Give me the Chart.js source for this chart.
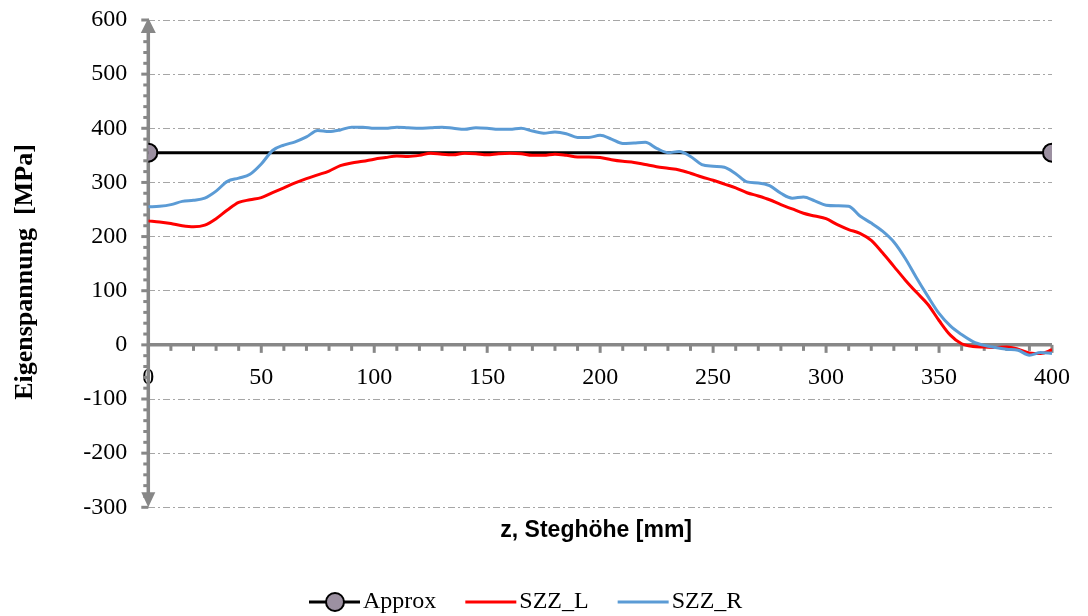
<!DOCTYPE html>
<html>
<head>
<meta charset="utf-8">
<script src="https://cdn.jsdelivr.net/npm/chart.js@4/dist/chart.umd.min.js"></script>
<style>
  html, body { margin: 0; padding: 0; background: #fff; }
  #wrap { width: 1088px; height: 616px; }
</style>
</head>
<body>
<div id="wrap"><canvas id="myChart" width="1088" height="616"></canvas></div>
<script>
// z positions along the web height [mm]
const zValues = [
  0, 5, 10, 15, 20, 25, 30, 35, 40, 45, 50, 55, 60, 65, 70, 75, 80, 85, 90, 95,
  100, 105, 110, 115, 120, 125, 130, 135, 140, 145, 150, 155, 160, 165, 170, 175, 180, 185, 190, 195,
  200, 205, 210, 215, 220, 225, 230, 235, 240, 245, 250, 255, 260, 265, 270, 275, 280, 285, 290, 295,
  300, 305, 310, 315, 320, 325, 330, 335, 340, 345, 350, 355, 360, 365, 370, 375, 380, 385, 390, 395,
  400
];

// residual stress, left side [MPa]
const szzL = [
  229, 227, 224, 220, 218, 221, 233, 249, 263, 268, 272, 281, 290, 299, 307, 314, 321, 331, 336, 339,
  343, 346, 349, 348, 350, 354, 352, 351, 354, 353, 351, 353, 354, 353, 350, 350, 352, 350, 347, 347,
  346, 342, 339, 337, 333, 329, 326, 323, 317, 310, 304, 297, 290, 281, 275, 268, 259, 251, 243, 238,
  233, 222, 213, 206, 193, 170, 145, 120, 97, 75, 45, 18, 2, -3, -4, -5, -4, -8, -15, -16,
  -9
];

// residual stress, right side [MPa]
const szzR = [
  255, 256, 259, 265, 267, 271, 284, 302, 308, 315, 334, 359, 369, 375, 384, 396, 394, 397, 402, 402,
  400, 400, 402, 401, 400, 401, 402, 400, 398, 401, 400, 398, 398, 400, 395, 391, 393, 390, 383, 383,
  387, 380, 372, 373, 374, 363, 355, 357, 348, 333, 330, 328, 316, 301, 299, 294, 280, 271, 273, 266,
  258, 257, 256, 238, 225, 210, 190, 160, 124, 90, 58, 35, 19, 6, -1, -5, -8, -10, -19, -14,
  -16
];

// simplified constant approximation
const approxZ = [0, 400];
const approxS = [355, 355];

const xTickValues = [0, 50, 100, 150, 200, 250, 300, 350, 400];
const yTickValues = [-300, -200, -100, 0, 100, 200, 300, 400, 500, 600];

const axisGrey = '#878787';
const gridGrey = '#a6a6a6';
const markerFill = '#9c90a1';

const toPoints = (xs, ys) => xs.map((v, i) => ({ x: v, y: ys[i] }));

// axis lines with arrows and minor/major tick marks
const axisDecor = {
  id: 'axisDecor',
  beforeDatasetsDraw(chart) {
    const { ctx, scales: { x, y } } = chart;
    const x0 = x.getPixelForValue(0);
    const y0 = y.getPixelForValue(0);
    const yTop = y.getPixelForValue(600);
    const yBot = y.getPixelForValue(-300);
    const xEnd = x.getPixelForValue(400);
    ctx.save();
    ctx.strokeStyle = axisGrey;
    ctx.fillStyle = axisGrey;

    ctx.lineWidth = 3;
    for (let v = -300; v <= 600; v += 20) {
      const py = y.getPixelForValue(v);
      const len = v % 100 === 0 ? 7 : 5;
      ctx.beginPath();
      ctx.moveTo(x0 - len, py);
      ctx.lineTo(x0, py);
      ctx.stroke();
    }
    for (let v = 0; v <= 400; v += 10) {
      const px = x.getPixelForValue(v);
      const len = v % 50 === 0 ? 8 : 6;
      ctx.beginPath();
      ctx.moveTo(px, y0);
      ctx.lineTo(px, y0 + len);
      ctx.stroke();
    }

    ctx.lineWidth = 3.5;
    ctx.beginPath();
    ctx.moveTo(x0, yTop + 10);
    ctx.lineTo(x0, yBot - 10);
    ctx.moveTo(x0, y0);
    ctx.lineTo(xEnd, y0);
    ctx.stroke();

    // arrow heads
    ctx.beginPath();
    ctx.moveTo(x0, yTop - 2);
    ctx.lineTo(x0 - 7.5, yTop + 13);
    ctx.lineTo(x0 + 7.5, yTop + 13);
    ctx.closePath();
    ctx.fill();
    ctx.beginPath();
    ctx.moveTo(x0, yBot);
    ctx.lineTo(x0 - 7, yBot - 15);
    ctx.lineTo(x0 + 7, yBot - 15);
    ctx.closePath();
    ctx.fill();
    ctx.restore();
  }
};

// axis titles and legend row
const titlesAndLegend = {
  id: 'titlesAndLegend',
  afterDraw(chart) {
    const { ctx, chartArea } = chart;
    ctx.save();
    ctx.fillStyle = '#000';
    ctx.textBaseline = 'middle';

    ctx.font = "bold 23px 'Liberation Sans', Arial, sans-serif";
    ctx.textAlign = 'center';
    ctx.fillText('z, Steghöhe [mm]', (chartArea.left + chartArea.right) / 2 - 4, 531);

    ctx.save();
    ctx.translate(25, 272);
    ctx.rotate(-Math.PI / 2);
    ctx.font = "bold 26px 'Liberation Serif', 'Times New Roman', serif";
    ctx.fillText('Eigenspannung  [MPa]', 0, 0);
    ctx.restore();

    ctx.font = "24px 'Liberation Serif', 'Times New Roman', serif";
    ctx.textAlign = 'left';
    let lx = 309;
    const ly = 602;
    chart.data.datasets.forEach(ds => {
      ctx.strokeStyle = ds.borderColor;
      ctx.lineWidth = 3;
      ctx.beginPath();
      ctx.moveTo(lx, ly);
      ctx.lineTo(lx + 51, ly);
      ctx.stroke();
      if (ds.pointRadius > 0) {
        ctx.beginPath();
        ctx.arc(lx + 26, ly, ds.pointRadius, 0, Math.PI * 2);
        ctx.fillStyle = ds.pointBackgroundColor;
        ctx.fill();
        ctx.lineWidth = ds.pointBorderWidth;
        ctx.strokeStyle = ds.pointBorderColor;
        ctx.stroke();
      }
      ctx.fillStyle = '#000';
      ctx.fillText(ds.label, lx + 54, ly);
      lx += 54 + ctx.measureText(ds.label).width + 29;
    });
    ctx.restore();
  }
};

Chart.defaults.font.family = "'Liberation Serif', 'Times New Roman', serif";
Chart.defaults.color = '#000';

const ctx = document.getElementById('myChart');

const myChart = new Chart(ctx, {
  type: 'line',
  data: {
    datasets: [
      {
        label: 'Approx',
        data: toPoints(approxZ, approxS),
        borderColor: '#000000',
        borderWidth: 3,
        pointRadius: 9,
        pointBackgroundColor: markerFill,
        pointBorderColor: '#000000',
        pointBorderWidth: 2,
        order: 3
      },
      {
        label: 'SZZ_L',
        data: toPoints(zValues, szzL),
        borderColor: '#ff0000',
        borderWidth: 3,
        pointRadius: 0,
        cubicInterpolationMode: 'monotone',
        order: 2
      },
      {
        label: 'SZZ_R',
        data: toPoints(zValues, szzR),
        borderColor: '#5b9bd5',
        borderWidth: 3,
        pointRadius: 0,
        cubicInterpolationMode: 'monotone',
        order: 1
      }
    ]
  },
  options: {
    responsive: false,
    devicePixelRatio: 1,
    animation: false,
    layout: { padding: { top: 20, right: 28.5, bottom: 108.7, left: 0 } },
    plugins: {
      legend: { display: false },
      tooltip: { enabled: false }
    },
    scales: {
      x: {
        type: 'linear',
        min: 0,
        max: 400,
        position: { y: 0 },
        afterBuildTicks: (scale) => { scale.ticks = xTickValues.map(v => ({ value: v })); },
        grid: { display: false, drawTicks: false },
        border: { display: false },
        ticks: { padding: 18, maxRotation: 0, font: { size: 24 }, color: '#000' }
      },
      y: {
        type: 'linear',
        min: -300,
        max: 600,
        afterBuildTicks: (scale) => { scale.ticks = yTickValues.map(v => ({ value: v })); },
        afterFit: (scale) => {
          scale.width = 148.3;
          // label padding should not push the plot area down
          scale.paddingTop = 14;
          scale.paddingBottom = 14;
        },
        grid: {
          drawTicks: false,
          lineWidth: 1,
          color: (c) => (c.tick && c.tick.value === 0 ? 'rgba(0,0,0,0)' : gridGrey)
        },
        border: { display: false, dash: [7, 3, 2, 3] },
        ticks: { padding: 21, font: { size: 24 }, color: '#000' }
      }
    }
  },
  plugins: [axisDecor, titlesAndLegend]
});
</script>
</body>
</html>
